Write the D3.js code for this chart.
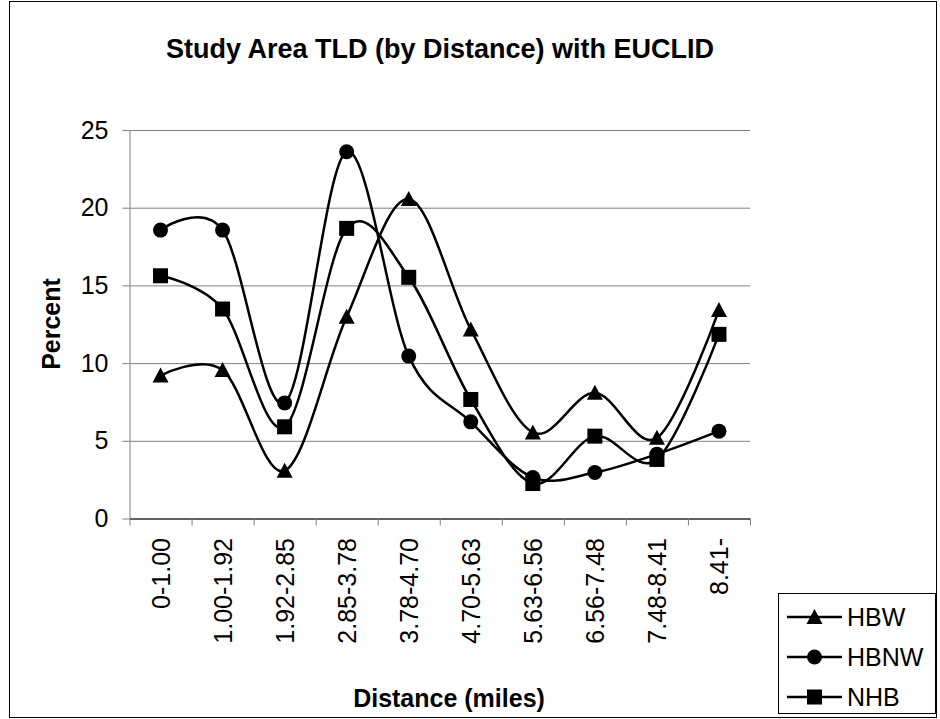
<!DOCTYPE html>
<html>
<head>
<meta charset="utf-8">
<script src="https://cdn.jsdelivr.net/npm/d3@7"></script>
<style>
  body { margin: 0; background: #fff; }
  svg { display: block; font-family: "Liberation Sans", Arial, sans-serif; }
</style>
</head>
<body>
<svg id="chart" width="940" height="719"></svg>
<script>
// data
var categories = ["0-1.00", "1.00-1.92", "1.92-2.85", "2.85-3.78", "3.78-4.70",
                  "4.70-5.63", "5.63-6.56", "6.56-7.48", "7.48-8.41", "8.41-"];
var hbw  = [9.2, 9.55, 3.07, 12.98, 20.56, 12.17, 5.54, 8.09, 5.19, 13.41];
var hbnw = [18.56, 18.56, 7.44, 23.6, 10.45, 6.22, 2.64, 2.96, 4.14, 5.62];
var nhb  = [15.62, 13.48, 5.9, 18.67, 15.52, 7.66, 2.25, 5.3, 3.8, 11.85];
var seriesNames = ["HBW", "HBNW", "NHB"];
var yTicks = [0, 5, 10, 15, 20, 25];

var series = [
    {name: seriesNames[0], values: hbw, marker: "triangle"},
    {name: seriesNames[1], values: hbnw, marker: "circle"},
    {name: seriesNames[2], values: nhb, marker: "square"}
];

var svg = d3.select("#chart");

// outer frame
svg.append("rect")
    .attr("x", 9.5).attr("y", 1.5)
    .attr("width", 927).attr("height", 716)
    .attr("fill", "none")
    .attr("stroke", "#000")
    .attr("stroke-width", 1);

var plotLeft = 129.5, plotRight = 750, plotTop = 130, plotBottom = 518.5;

var x = d3.scaleBand()
    .domain(categories)
    .range([plotLeft, plotRight]);
var y = d3.scaleLinear()
    .domain([0, 25])
    .range([plotBottom, plotTop]);

// gridlines
svg.append("g")
    .attr("class", "grid")
    .attr("transform", "translate(" + plotLeft + ",0)")
    .call(d3.axisLeft(y).tickValues(yTicks).tickSize(-(plotRight - plotLeft)).tickFormat(""))
    .call(g => g.select(".domain").remove())
    .call(g => g.selectAll("line").attr("stroke", "#808080").attr("stroke-width", 1));

// y axis
var axisY = svg.append("g")
    .attr("transform", "translate(" + plotLeft + ",0)")
    .call(d3.axisLeft(y).tickValues(yTicks).tickSize(7).tickPadding(14).tickSizeOuter(0));
axisY.select(".domain").attr("stroke", "#808080");
axisY.selectAll("line").attr("stroke", "#808080");
axisY.selectAll("text")
    .attr("font-size", 25)
    .attr("font-family", "Liberation Sans, Arial, sans-serif")
    .attr("fill", "#000");

// x axis: ticks on band boundaries
var xb = d3.scaleLinear().domain([0, categories.length]).range([plotLeft, plotRight]);
var axisX = svg.append("g")
    .attr("transform", "translate(0," + plotBottom + ")")
    .call(d3.axisBottom(xb).ticks(categories.length).tickSize(7).tickFormat("").tickSizeOuter(0));
axisX.select(".domain").attr("stroke", "#000");
axisX.selectAll("line").attr("stroke", "#808080");

svg.append("g")
    .selectAll("text")
    .data(categories)
    .enter()
    .append("text")
    .attr("transform", function(d){
        return "translate(" + (x(d) + x.bandwidth() / 2) + ",538) rotate(-90)";
    })
    .attr("dy", "0.36em")
    .attr("text-anchor", "end")
    .attr("font-size", 25)
    .text(function(d){ return d; });

// markers
function drawMarker(g, type, cx, cy){
    if(type == "triangle"){
        g.append("path")
            .attr("d", "M" + cx + "," + (cy - 8) + "L" + (cx + 8) + "," + (cy + 7) + "L" + (cx - 8) + "," + (cy + 7) + "Z")
            .attr("fill", "#000");
    } else if(type == "circle"){
        g.append("circle")
            .attr("cx", cx).attr("cy", cy).attr("r", 7.5)
            .attr("fill", "#000");
    } else {
        g.append("rect")
            .attr("x", cx - 7.5).attr("y", cy - 7.5)
            .attr("width", 15).attr("height", 15)
            .attr("fill", "#000");
    }
}

var line = d3.line()
    .x(function(d, i){ return x(categories[i]) + x.bandwidth() / 2; })
    .y(function(d){ return y(d); })
    .curve(d3.curveCardinal.tension(0));

series.forEach(function(s){
    var g = svg.append("g");
    g.append("path")
        .attr("d", line(s.values))
        .attr("fill", "none")
        .attr("stroke", "#000")
        .attr("stroke-width", 2.5);
    s.values.forEach(function(v, i){
        drawMarker(g, s.marker, x(categories[i]) + x.bandwidth() / 2, y(v));
    });
});

// title and axis titles
svg.append("text")
    .attr("x", 440).attr("y", 58)
    .attr("text-anchor", "middle")
    .attr("font-size", 27)
    .attr("font-weight", "bold")
    .text("Study Area TLD (by Distance) with EUCLID");

svg.append("text")
    .attr("transform", "translate(60,324) rotate(-90)")
    .attr("text-anchor", "middle")
    .attr("font-size", 25)
    .attr("font-weight", "bold")
    .text("Percent");

svg.append("text")
    .attr("x", 449).attr("y", 707)
    .attr("text-anchor", "middle")
    .attr("font-size", 25)
    .attr("font-weight", "bold")
    .text("Distance (miles)");

// legend
var legend = svg.append("g");
legend.append("rect")
    .attr("x", 778.5).attr("y", 593.5)
    .attr("width", 157).attr("height", 120)
    .attr("fill", "#fff")
    .attr("stroke", "#000")
    .attr("stroke-width", 1);
series.forEach(function(s, i){
    var ly = 617 + i * 40;
    legend.append("line")
        .attr("x1", 787).attr("x2", 842)
        .attr("y1", ly).attr("y2", ly)
        .attr("stroke", "#000")
        .attr("stroke-width", 2.5);
    drawMarker(legend, s.marker, 814.5, ly);
    legend.append("text")
        .attr("x", 847).attr("y", ly + 9)
        .attr("font-size", 25)
        .text(s.name);
});
</script>
</body>
</html>
